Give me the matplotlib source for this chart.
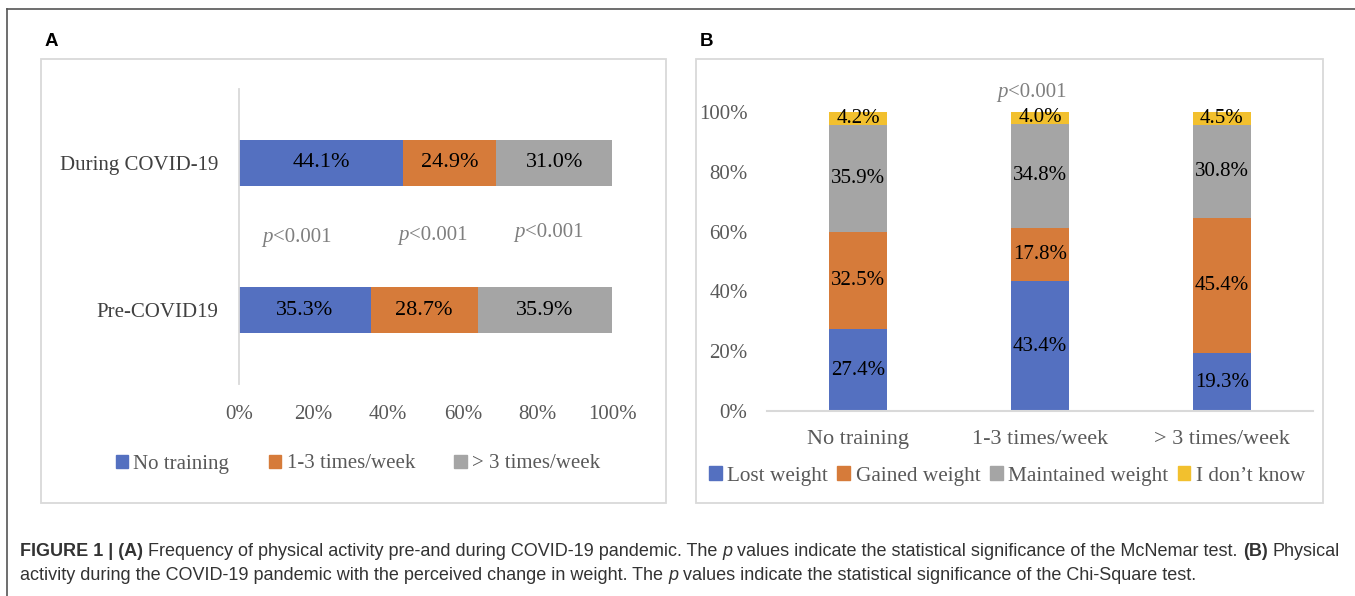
import numpy as np
import matplotlib
matplotlib.use("Agg")
import matplotlib.pyplot as plt
from matplotlib.patches import Rectangle, Patch
from matplotlib.lines import Line2D
from matplotlib.offsetbox import TextArea, HPacker, AnnotationBbox

plt.rcParams['font.family'] = ['Liberation Serif', 'DejaVu Serif']

# ---- data, panel A
periods = ["Pre-COVID19", "During COVID-19"]
freq_labels = ["No training", "1-3 times/week", "> 3 times/week"]
no_training = [35.3, 44.1]
one_to_three = [28.7, 24.9]
over_three = [35.9, 31.0]
p_values_a = ["<0.001", "<0.001", "<0.001"]

# ---- data, panel B
groups = ["No training", "1-3 times/week", "> 3 times/week"]
weight_labels = ["Lost weight", "Gained weight", "Maintained weight", "I don\u2019t know"]
lost = [27.4, 43.4, 19.3]
gained = [32.5, 17.8, 45.4]
maintained = [35.9, 34.8, 30.8]
dont_know = [4.2, 4.0, 4.5]
p_value_b = "<0.001"

BLUE, ORANGE, GRAY, YELLOW = "#5470C0", "#D67B3A", "#A5A5A5", "#F2C02E"
TXT = "#595959"
W, H = 1355, 596


def px_axes(fig, x0, y0, x1, y1):
    """axes from pixel box (top-left origin)"""
    return fig.add_axes([x0 / W, 1 - y1 / H, (x1 - x0) / W, (y1 - y0) / H])


def rich_text(ax, pieces, xy, coords, sep=0, align=(0.5, 0.5)):
    """several text styles on one line"""
    boxes = [TextArea(s, textprops=p) for s, p in pieces]
    pack = HPacker(children=boxes, align="baseline", pad=0, sep=sep)
    ab = AnnotationBbox(pack, xy, xycoords=coords, frameon=False,
                        box_alignment=align, pad=0, annotation_clip=False)
    ax.add_artist(ab)
    return ab


fig = plt.figure(figsize=(W / 100, H / 100), dpi=100)

# outer frame lines and panel boxes
fig.add_artist(Line2D([7 / W, 1], [1 - 8.5 / H, 1 - 8.5 / H], color="#555555", lw=1.2))
fig.add_artist(Line2D([7 / W, 7 / W], [0, 1 - 8.5 / H], color="#555555", lw=1.2))
for x0, x1 in [(41, 666), (696, 1323)]:
    fig.add_artist(Rectangle((x0 / W, 1 - 503 / H), (x1 - x0) / W, (503 - 59) / H,
                             fill=False, ec="#D9D9D9", lw=1.3))
fig.text(45 / W, 1 - 42 / H, "A", family="Liberation Sans", weight="bold",
         fontsize=13.5, va="center")
fig.text(700 / W, 1 - 42 / H, "B", family="Liberation Sans", weight="bold",
         fontsize=13.5, va="center")

# ---- panel A: horizontal stacked bars
axa = px_axes(fig, 239, 89, 612, 384)
y = np.arange(len(periods))
left = np.zeros(len(periods))
for vals, col in zip([no_training, one_to_three, over_three], [BLUE, ORANGE, GRAY]):
    axa.barh(y, vals, left=left, height=0.31, color=col)
    for yy, l, v in zip(y, left, vals):
        axa.text(l + v / 2, yy, f"{v:.1f}%", ha="center", va="center",
                 fontsize=16, color="black")
    left += np.array(vals)
axa.set_xlim(0, 100)
axa.set_ylim(-0.5, 1.5)
axa.set_xticks(np.arange(0, 101, 20))
axa.set_xticklabels([f"{v}%" for v in range(0, 101, 20)])
axa.set_yticks(y)
axa.set_yticklabels(periods)
axa.tick_params(axis="x", length=0, pad=15, labelsize=15, labelcolor=TXT)
axa.tick_params(axis="y", length=0, pad=15, labelsize=15, labelcolor="#404040")
for s in ["top", "right", "bottom"]:
    axa.spines[s].set_visible(False)
axa.spines["left"].set_color("#D9D9D9")
axa.spines["left"].set_linewidth(1.3)

ital = dict(fontsize=15, color="#7F7F7F", style="italic")
norm = dict(fontsize=15, color="#7F7F7F")
for (px, py), pv in zip([(15.5, 0.49), (52.0, 0.505), (83.0, 0.525)], p_values_a):
    rich_text(axa, [("p", ital), (pv, norm)], (px, py), "data")

fig.legend([Patch(color=c) for c in [BLUE, ORANGE, GRAY]], freq_labels,
           loc="center", bbox_to_anchor=(358 / W, 1 - 464 / H), ncol=3,
           frameon=False, handlelength=0.6, handleheight=0.6,
           handletextpad=0.25, columnspacing=1.9,
           prop=dict(size=15), labelcolor=TXT)

# ---- panel B: vertical stacked bars
axb = px_axes(fig, 767, 112, 1313, 411)
x = np.arange(len(groups))
bottom = np.zeros(len(groups))
for vals, col in zip([lost, gained, maintained, dont_know], [BLUE, ORANGE, GRAY, YELLOW]):
    axb.bar(x, vals, bottom=bottom, width=0.32, color=col)
    for xx, b, v in zip(x, bottom, vals):
        axb.text(xx, b + v / 2, f"{v:.1f}%", ha="center", va="center",
                 fontsize=15, color="black")
    bottom += np.array(vals)
axb.set_xlim(-0.5, 2.5)
axb.set_ylim(0, 100)
axb.set_yticks(np.arange(0, 101, 20))
axb.set_yticklabels([f"{v}%" for v in range(0, 101, 20)])
axb.set_xticks(x)
axb.set_xticklabels(groups)
axb.tick_params(axis="y", length=0, pad=14, labelsize=15, labelcolor=TXT)
axb.tick_params(axis="x", length=0, pad=14, labelsize=16, labelcolor=TXT)
for s in ["top", "right", "left"]:
    axb.spines[s].set_visible(False)
axb.spines["bottom"].set_color("#D9D9D9")
axb.spines["bottom"].set_linewidth(1.5)
rich_text(axb, [("p", ital), (p_value_b, norm)], (0.956, 106.4), "data")

fig.legend([Patch(color=c) for c in [BLUE, ORANGE, GRAY, YELLOW]], weight_labels,
           loc="center", bbox_to_anchor=(1007 / W, 1 - 476 / H), ncol=4,
           frameon=False, handlelength=0.6, handleheight=0.6,
           handletextpad=0.25, columnspacing=0.45,
           prop=dict(size=15.3), labelcolor=TXT)

# ---- caption
cap_size = 13
sans = dict(family="Liberation Sans", size=cap_size, color="#333333")
sans_b = dict(sans, weight="bold")
sans_i = dict(sans, style="italic")
sp = 0.278 * cap_size
line1 = [("FIGURE 1 | (A)", sans_b),
         ("Frequency of physical activity pre-and during COVID-19 pandemic. The", sans),
         ("p", sans_i),
         ("values indicate the statistical significance of the McNemar test.", sans),
         ("(B)", sans_b), ("Physical", sans)]
line2 = [("activity during the COVID-19 pandemic with the perceived change in weight. The", sans),
         ("p", sans_i),
         ("values indicate the statistical significance of the Chi-Square test.", sans)]
cax = fig.add_axes([0, 0, 1, 1])
cax.set_axis_off()
rich_text(cax, line1, (20 / W, 1 - 551 / H), "axes fraction", sep=sp, align=(0, 0.5))
rich_text(cax, line2, (20 / W, 1 - 575 / H), "axes fraction", sep=sp, align=(0, 0.5))

fig.savefig("out.png", dpi=100)
